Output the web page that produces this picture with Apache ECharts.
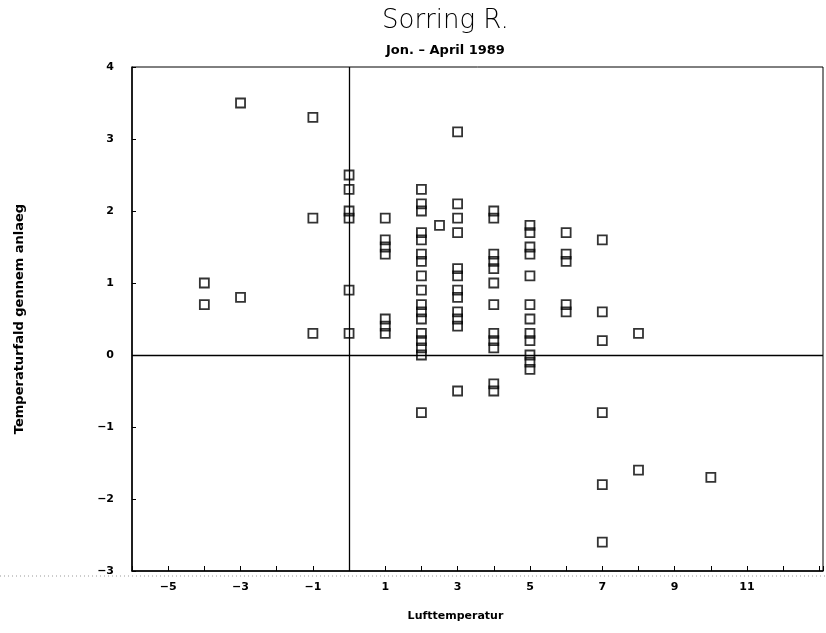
<!DOCTYPE html>
<html>
<head>
<meta charset="utf-8">
<title>Sorring R.</title>
<script src="https://cdn.jsdelivr.net/npm/echarts@6/dist/echarts.min.js"></script>
<style>
  html, body { margin: 0; padding: 0; background: #fff; }
  #chart { width: 826px; height: 633px; }
</style>
</head>
<body>
<div id="chart"></div>
<script>
// Air temperature (°C) per observation
const airTemp = [
  -4, -4,
  -3, -3,
  -1, -1, -1,
  0, 0, 0, 0, 0, 0,
  1, 1, 1, 1, 1, 1, 1,
  2, 2, 2, 2, 2, 2, 2, 2, 2, 2, 2, 2, 2, 2, 2, 2, 2,
  2.5,
  3, 3, 3, 3, 3, 3, 3, 3, 3, 3, 3, 3,
  4, 4, 4, 4, 4, 4, 4, 4, 4, 4, 4, 4,
  5, 5, 5, 5, 5, 5, 5, 5, 5, 5, 5, 5,
  6, 6, 6, 6, 6,
  7, 7, 7, 7, 7, 7,
  8, 8,
  10
];

// Temperature drop through the plant for the same observations
const tempDrop = [
  1.0, 0.7,
  3.5, 0.8,
  3.3, 1.9, 0.3,
  2.5, 2.3, 2.0, 1.9, 0.9, 0.3,
  1.9, 1.6, 1.5, 1.4, 0.5, 0.4, 0.3,
  2.3, 2.1, 2.0, 1.7, 1.6, 1.4, 1.3, 1.1, 0.9, 0.7, 0.6, 0.5, 0.3, 0.2, 0.1, 0.0, -0.8,
  1.8,
  3.1, 2.1, 1.9, 1.7, 1.2, 1.1, 0.9, 0.8, 0.6, 0.5, 0.4, -0.5,
  2.0, 1.9, 1.4, 1.3, 1.2, 1.0, 0.7, 0.3, 0.2, 0.1, -0.4, -0.5,
  1.8, 1.7, 1.5, 1.4, 1.1, 0.7, 0.5, 0.3, 0.2, 0.0, -0.1, -0.2,
  1.7, 1.4, 1.3, 0.7, 0.6,
  1.6, 0.6, 0.2, -0.8, -1.8, -2.6,
  0.3, -1.6,
  -1.7
];

const xRange = [-6, 13.1];
const yRange = [-3, 4];

const points = airTemp.map((x, i) => [x, tempDrop[i]]);
const minus = v => String(v).replace('-', '\u2212');

const labelFont = {
  color: '#000',
  fontFamily: 'DejaVu Sans',
  fontWeight: 'bold',
  fontSize: 11
};

const chart = echarts.init(document.getElementById('chart'), null, { renderer: 'canvas' });

chart.setOption({
  animation: false,
  backgroundColor: '#fff',
  title: [
    {
      text: 'Sorring R.',
      left: 377,
      top: 3,
      textStyle: {
        fontFamily: 'DejaVu Sans',
        fontWeight: 200,
        fontSize: 26,
        color: '#000'
      }
    },
    {
      text: 'Jon. \u2013 April 1989',
      left: 381,
      top: 39,
      textStyle: {
        fontFamily: 'DejaVu Sans',
        fontWeight: 'bold',
        fontSize: 13,
        color: '#000'
      }
    }
  ],
  grid: {
    left: 132,
    right: 0,
    top: 67,
    bottom: 62,
    show: true,
    borderColor: '#000',
    borderWidth: 1
  },
  xAxis: {
    type: 'value',
    min: xRange[0],
    max: xRange[1],
    interval: 1,
    name: 'Lufttemperatur',
    nameLocation: 'middle',
    nameGap: 40,
    nameTextStyle: Object.assign({}, labelFont, { padding: [0, 44, 0, 0] }),
    axisLine: { show: true, onZero: false, lineStyle: { color: '#000', width: 1.5 } },
    axisTick: { show: true, inside: true, length: 5, lineStyle: { color: '#000', width: 1 } },
    axisLabel: Object.assign({}, labelFont, {
      margin: 11,
      formatter: v => (Number.isInteger(v) && Math.abs(v % 2) === 1 && v < 13) ? minus(v) : ''
    }),
    splitLine: { show: false }
  },
  yAxis: {
    type: 'value',
    min: yRange[0],
    max: yRange[1],
    interval: 1,
    name: 'Temperaturfald gennem anlaeg',
    nameLocation: 'middle',
    nameGap: 106,
    nameTextStyle: Object.assign({}, labelFont, { fontSize: 13 }),
    axisLine: { show: true, onZero: false, lineStyle: { color: '#000', width: 1.5 } },
    axisTick: { show: true, inside: true, length: 4, lineStyle: { color: '#000', width: 1 } },
    axisLabel: Object.assign({}, labelFont, {
      margin: 18,
      formatter: v => minus(v)
    }),
    splitLine: { show: false }
  },
  graphic: [
    {
      // faint dotted rule running under the lower axis
      type: 'line',
      shape: { x1: 0, y1: 576, x2: 826, y2: 576 },
      style: { stroke: '#999', lineWidth: 1, lineDash: [1, 3] },
      silent: true
    }
  ],
  series: [
    {
      type: 'scatter',
      data: points,
      symbol: 'rect',
      symbolSize: 9,
      itemStyle: {
        color: 'rgba(0,0,0,0)',
        borderColor: '#000',
        borderWidth: 1.8
      },
      markLine: {
        silent: true,
        symbol: 'none',
        label: { show: false },
        lineStyle: { color: '#000', type: 'solid', width: 1.3 },
        data: [
          { xAxis: 0 },
          { yAxis: 0 }
        ]
      },
      z: 3
    }
  ]
});
</script>
</body>
</html>
